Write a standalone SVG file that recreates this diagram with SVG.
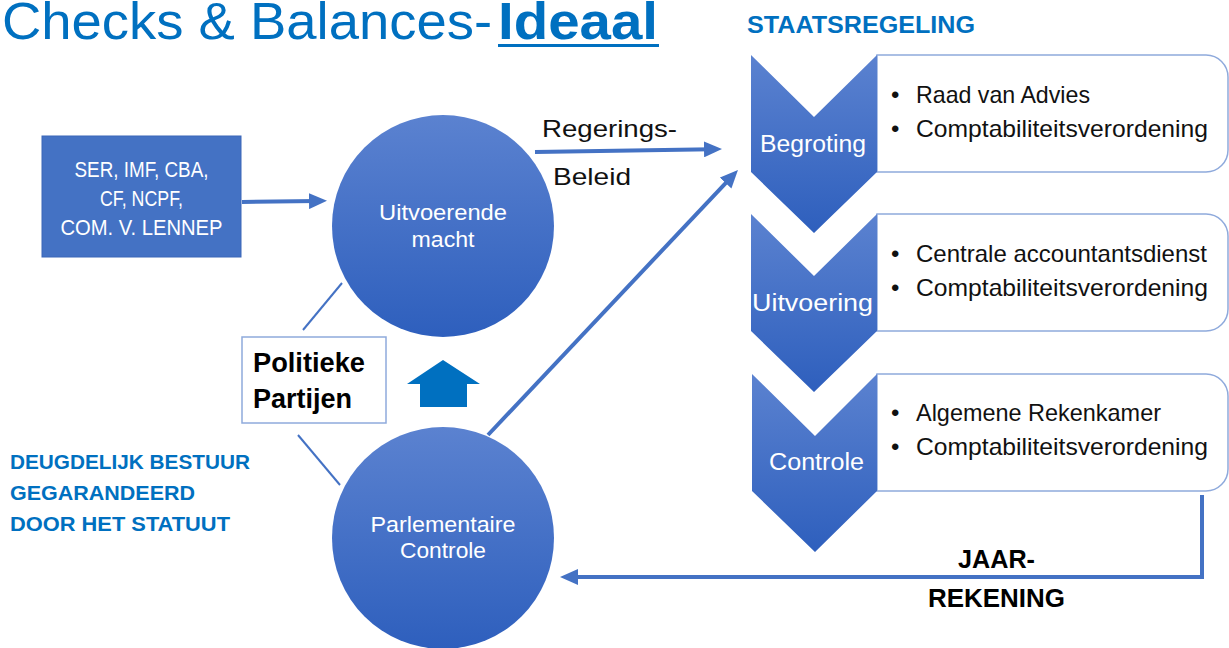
<svg xmlns="http://www.w3.org/2000/svg" width="1229" height="648" viewBox="0 0 1229 648">
<defs>
<linearGradient id="gBlue" x1="0" y1="0" x2="0" y2="1">
<stop offset="0" stop-color="#5B82D0"/>
<stop offset="1" stop-color="#2E5FBD"/>
</linearGradient>
<marker id="ah" viewBox="0 0 18 16" markerWidth="18" markerHeight="16" markerUnits="userSpaceOnUse" refX="8" refY="8" orient="auto">
<path d="M0,0 L18,8 L0,16 Z" fill="#4472C4"/>
</marker>
<style>
text{font-family:"Liberation Sans",Arial,sans-serif}
.wt{fill:#FFFFFF;font-size:22px;text-anchor:middle}
.ch{fill:#FFFFFF;font-size:23px;text-anchor:middle}
.bl{fill:#111111;font-size:24px}
.bk{fill:#000000;font-weight:bold}
.blue{fill:#0070C0}
.conn{fill:none;stroke:#4472C4;stroke-width:4}
.thin{fill:none;stroke:#4472C4;stroke-width:2}
.box{fill:#FFFFFF;stroke:#8FAADC;stroke-width:1.5}
.chev{fill:url(#gBlue)}
</style>
</defs>
<rect width="1229" height="648" fill="#FFFFFF"/>

<g id="title">
<text x="2" y="39" class="blue" font-size="52" textLength="490" lengthAdjust="spacingAndGlyphs">Checks &amp; Balances-</text>
<text x="498" y="39" class="blue" font-size="52" font-weight="bold" textLength="160" lengthAdjust="spacingAndGlyphs">Ideaal</text>
<rect x="498" y="44" width="161" height="3" fill="#0070C0"/>
</g>

<g id="staatsregeling-title">
<text x="747" y="33" class="blue" font-size="24" font-weight="bold" textLength="228" lengthAdjust="spacingAndGlyphs">STAATSREGELING</text>
</g>

<g id="connectors">
<path class="conn" d="M242,202 L317,201" marker-end="url(#ah)"/>
<path class="conn" d="M535,152 L712,149.2" marker-end="url(#ah)"/>
<path class="conn" d="M488,435 L731.1,177.3" marker-end="url(#ah)"/>
<path class="conn" d="M1202,495 V577 H570" marker-end="url(#ah)"/>
<path class="thin" d="M342,283 L303,330"/>
<path class="thin" d="M298,435 L340,485"/>
</g>

<g id="ser-box">
<rect x="42" y="136" width="199" height="121" fill="#4472C4" stroke="#3A66B8" stroke-width="1"/>
<text x="141.5" y="177" class="wt" font-size="20" textLength="134" lengthAdjust="spacingAndGlyphs">SER, IMF, CBA,</text>
<text x="141.5" y="206" class="wt" font-size="20" textLength="83" lengthAdjust="spacingAndGlyphs">CF, NCPF,</text>
<text x="141.5" y="235" class="wt" font-size="20" textLength="162" lengthAdjust="spacingAndGlyphs">COM. V. LENNEP</text>
</g>

<g id="uitvoerende-macht">
<circle cx="443" cy="226" r="111" fill="url(#gBlue)"/>
<text x="443" y="220" class="wt" textLength="128" lengthAdjust="spacingAndGlyphs">Uitvoerende</text>
<text x="443" y="247" class="wt" textLength="63" lengthAdjust="spacingAndGlyphs">macht</text>
</g>

<g id="parlementaire-controle">
<circle cx="443" cy="538" r="111" fill="url(#gBlue)"/>
<text x="443" y="532" class="wt" textLength="145" lengthAdjust="spacingAndGlyphs">Parlementaire</text>
<text x="443" y="558" class="wt" textLength="86" lengthAdjust="spacingAndGlyphs">Controle</text>
</g>

<g id="politieke-partijen">
<rect x="242" y="337" width="144" height="86" fill="#FFFFFF" stroke="#8FAADC" stroke-width="1.5"/>
<text x="253" y="372" class="bk" font-size="27" textLength="112" lengthAdjust="spacingAndGlyphs">Politieke</text>
<text x="253" y="408" class="bk" font-size="27" textLength="99" lengthAdjust="spacingAndGlyphs">Partijen</text>
</g>

<g id="up-arrow">
<polygon points="443,360 480,384 467,384 467,407 420,407 420,384 407,384" fill="#0070C0"/>
</g>

<g id="regeringsbeleid-label">
<text x="542" y="137" class="bl" textLength="135" lengthAdjust="spacingAndGlyphs">Regerings-</text>
<text x="553" y="185" class="bl" textLength="78" lengthAdjust="spacingAndGlyphs">Beleid</text>
</g>

<g id="begroting">
<path class="box" d="M877,55 H1206 A22,22 0 0 1 1228,77 V150 A22,22 0 0 1 1206,172 H877 Z"/>
<path class="chev" d="M751,55 L814,117 L877,55 L877,172 L814,233 L751,172 Z"/>
<text x="813" y="152" class="ch" textLength="106" lengthAdjust="spacingAndGlyphs">Begroting</text>
<text x="891" y="103" class="bl">•</text>
<text x="916" y="103" class="bl" textLength="174" lengthAdjust="spacingAndGlyphs">Raad van Advies</text>
<text x="891" y="137" class="bl">•</text>
<text x="916" y="137" class="bl" textLength="292" lengthAdjust="spacingAndGlyphs">Comptabiliteitsverordening</text>
</g>

<g id="uitvoering">
<path class="box" d="M877,214 H1206 A22,22 0 0 1 1228,236 V309 A22,22 0 0 1 1206,331 H877 Z"/>
<path class="chev" d="M751,214 L814,276 L877,214 L877,331 L814,392 L751,331 Z"/>
<text x="812.5" y="311" class="ch" textLength="121" lengthAdjust="spacingAndGlyphs">Uitvoering</text>
<text x="891" y="262" class="bl">•</text>
<text x="916" y="262" class="bl" textLength="291" lengthAdjust="spacingAndGlyphs">Centrale accountantsdienst</text>
<text x="891" y="296" class="bl">•</text>
<text x="916" y="296" class="bl" textLength="292" lengthAdjust="spacingAndGlyphs">Comptabiliteitsverordening</text>
</g>

<g id="controle">
<path class="box" d="M877,374 H1206 A22,22 0 0 1 1228,396 V469 A22,22 0 0 1 1206,491 H877 Z"/>
<path class="chev" d="M752,374 L815,436 L877,374 L877,491 L815,552 L752,491 Z"/>
<text x="816.5" y="470" class="ch" textLength="95" lengthAdjust="spacingAndGlyphs">Controle</text>
<text x="891" y="421" class="bl">•</text>
<text x="916" y="421" class="bl" textLength="245" lengthAdjust="spacingAndGlyphs">Algemene Rekenkamer</text>
<text x="891" y="455" class="bl">•</text>
<text x="916" y="455" class="bl" textLength="292" lengthAdjust="spacingAndGlyphs">Comptabiliteitsverordening</text>
</g>

<g id="jaarrekening-label">
<text x="958" y="568" class="bk" font-size="26" textLength="77" lengthAdjust="spacingAndGlyphs">JAAR-</text>
<text x="928" y="607" class="bk" font-size="26" textLength="137" lengthAdjust="spacingAndGlyphs">REKENING</text>
</g>

<g id="deugdelijk-bestuur">
<text x="10" y="469" class="blue" font-size="20.5" font-weight="bold" textLength="240" lengthAdjust="spacingAndGlyphs">DEUGDELIJK BESTUUR</text>
<text x="10" y="500" class="blue" font-size="20.5" font-weight="bold" textLength="185" lengthAdjust="spacingAndGlyphs">GEGARANDEERD</text>
<text x="10" y="531" class="blue" font-size="20.5" font-weight="bold" textLength="220" lengthAdjust="spacingAndGlyphs">DOOR HET STATUUT</text>
</g>
</svg>
